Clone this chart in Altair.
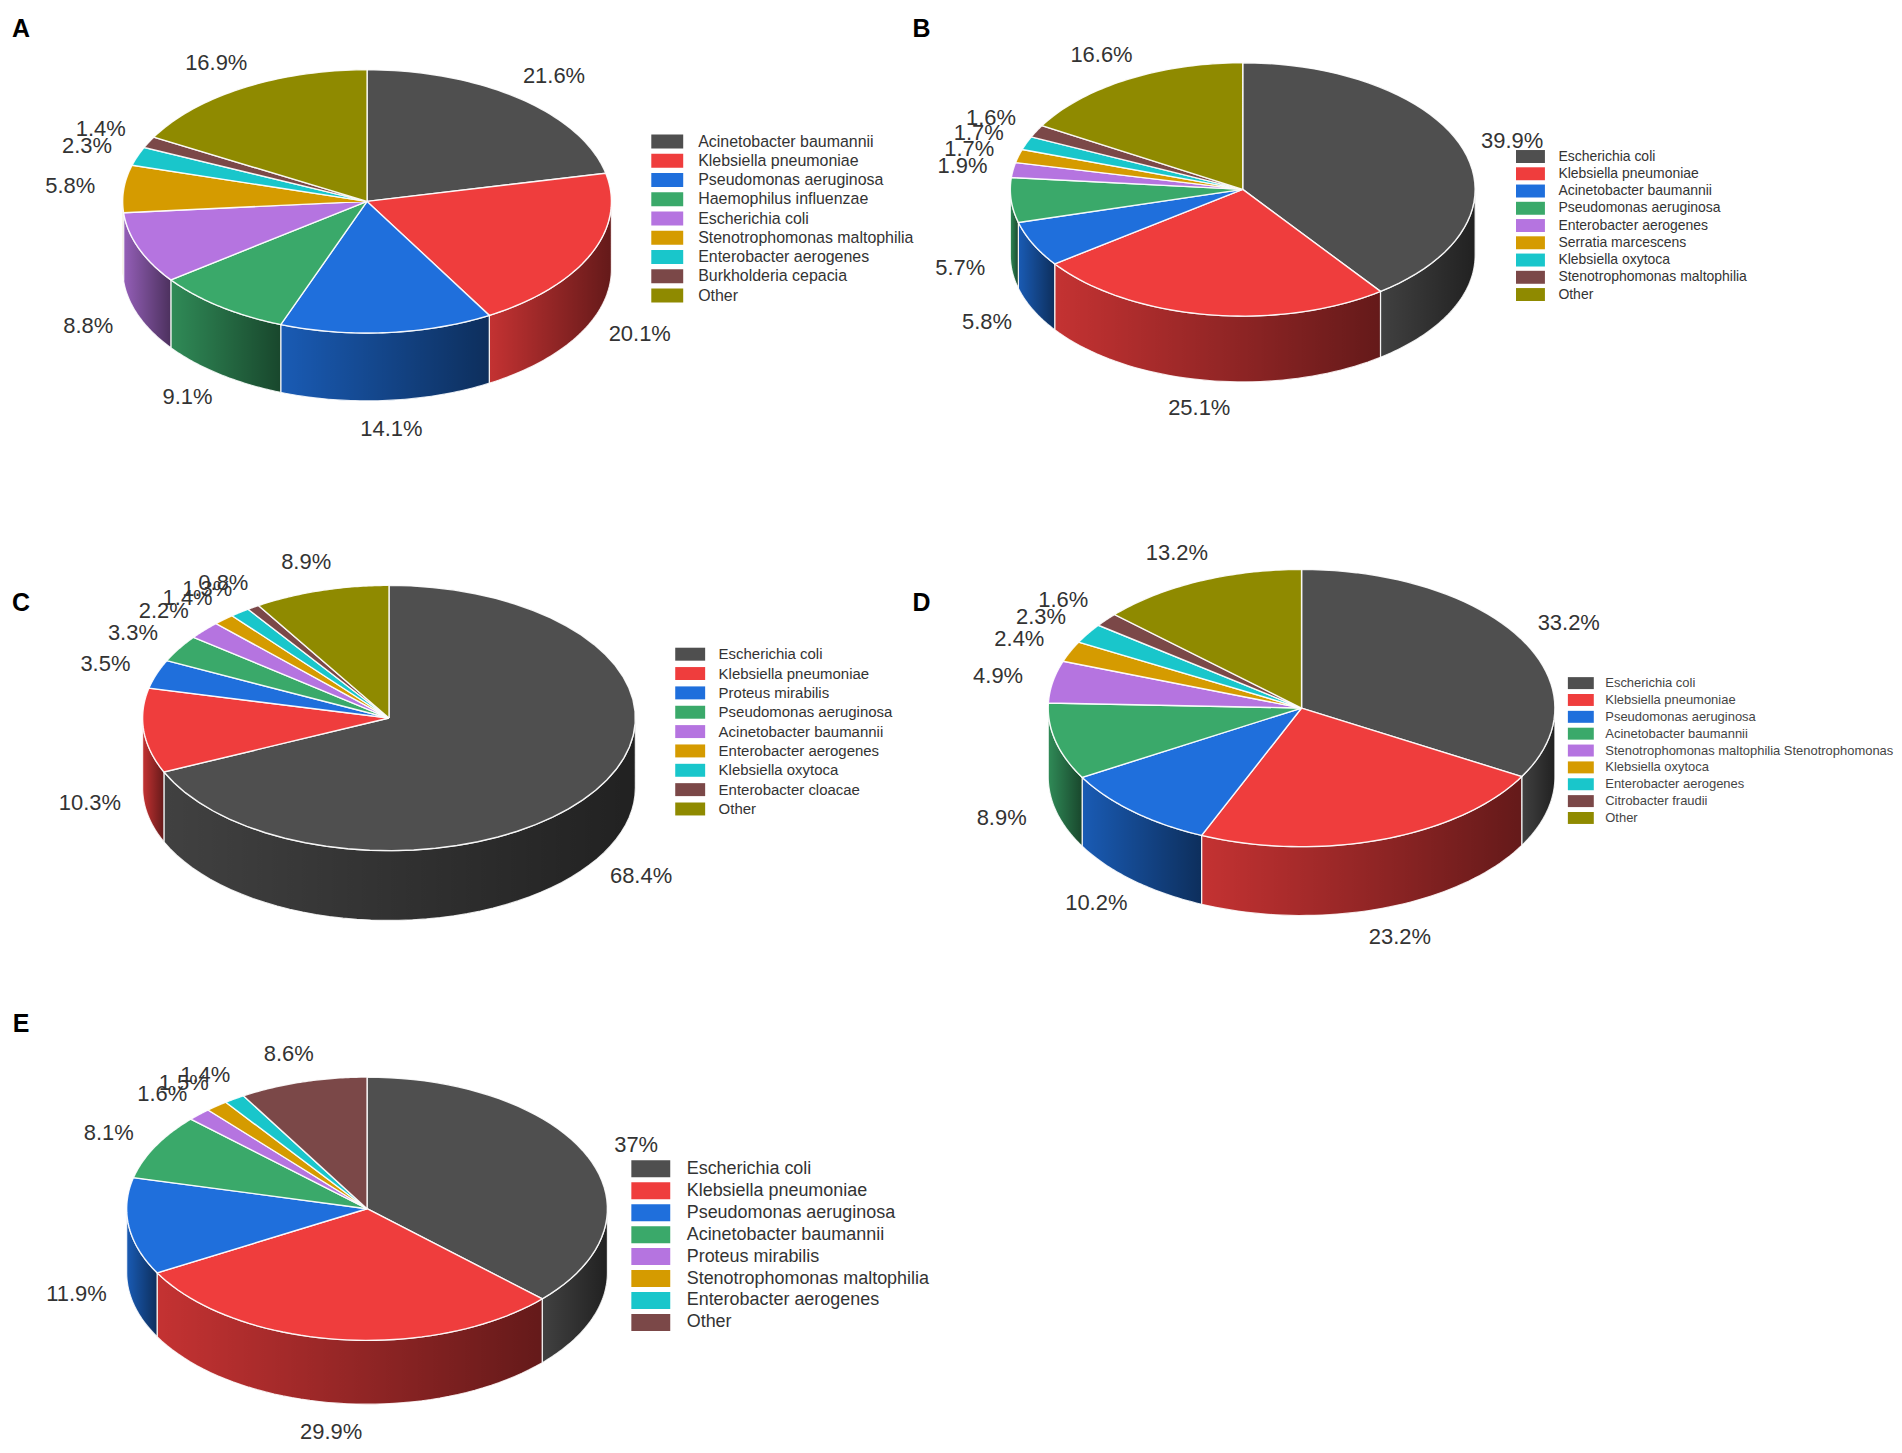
import altair as alt
import pandas as pd

# ------------------------------------------------------------------ data
A_names = ["Acinetobacter baumannii", "Klebsiella pneumoniae", "Pseudomonas aeruginosa",
           "Haemophilus influenzae", "Escherichia coli", "Stenotrophomonas maltophilia",
           "Enterobacter aerogenes", "Burkholderia cepacia", "Other"]
A_values = [21.6, 20.1, 14.1, 9.1, 8.8, 5.8, 2.3, 1.4, 16.9]

B_names = ["Escherichia coli", "Klebsiella pneumoniae", "Acinetobacter baumannii",
           "Pseudomonas aeruginosa", "Enterobacter aerogenes", "Serratia marcescens",
           "Klebsiella oxytoca", "Stenotrophomonas maltophilia", "Other"]
B_values = [39.9, 25.1, 5.8, 5.7, 1.9, 1.7, 1.7, 1.6, 16.6]

C_names = ["Escherichia coli", "Klebsiella pneumoniae", "Proteus mirabilis",
           "Pseudomonas aeruginosa", "Acinetobacter baumannii", "Enterobacter aerogenes",
           "Klebsiella oxytoca", "Enterobacter cloacae", "Other"]
C_values = [68.4, 10.3, 3.5, 3.3, 2.2, 1.4, 1.3, 0.8, 8.9]

D_names = ["Escherichia coli", "Klebsiella pneumoniae", "Pseudomonas aeruginosa",
           "Acinetobacter baumannii", "Stenotrophomonas maltophilia Stenotrophomonas",
           "Klebsiella oxytoca", "Enterobacter aerogenes", "Citrobacter fraudii", "Other"]
D_values = [33.2, 23.2, 10.2, 8.9, 4.9, 2.4, 2.3, 1.6, 13.2]

E_names = ["Escherichia coli", "Klebsiella pneumoniae", "Pseudomonas aeruginosa",
           "Acinetobacter baumannii", "Proteus mirabilis", "Stenotrophomonas maltophilia",
           "Enterobacter aerogenes", "Other"]
E_values = [37, 29.9, 11.9, 8.1, 1.6, 1.5, 1.4, 8.6]

PALETTE = ["#4f4f4f", "#ef3d3d", "#1f6fdc", "#3aa96a", "#b574e0",
           "#d59b00", "#19c6cb", "#7b4848", "#8f8a00"]
E_colors = PALETTE[:7] + ["#7b4848"]

FONT = "Liberation Sans"
N = 48  # samples along each arc


def panel(letter, names, values, colors, W, H, cx, cy, rx, ry, depth,
          letter_x, letter_y, lx, ly, sw, sh, fs, rowpad, gap, lab_color="#333333"):
    df = pd.DataFrame({"name": names, "value": values, "order": list(range(len(names)))})
    size = max(sh, fs)
    legend = alt.Legend(
        orient="none", legendX=lx, legendY=ly - size / 2, title=None, padding=0,
        symbolType=f"M-{sw/sh:.4f},-1H{sw/sh:.4f}V1H-{sw/sh:.4f}Z",
        symbolSize=sh * sh, symbolStrokeWidth=0,
        symbolOffset=sw / 2 - size / 2, labelOffset=sw + gap - size,
        labelFont=FONT, labelFontSize=fs, labelColor=lab_color, labelLimit=0,
        rowPadding=rowpad,
    )
    color = alt.Color("name:N", scale=alt.Scale(domain=names, range=colors), legend=legend)
    xs = alt.X("px:Q", scale=alt.Scale(domain=[0, W], nice=False, zero=False), axis=None)
    ys = alt.Y("py:Q", scale=alt.Scale(domain=[0, H], nice=False, zero=False, reverse=True), axis=None)

    base = (alt.Chart(df)
            .transform_joinaggregate(total="sum(value)")
            .transform_window(cum="sum(value)", sort=[alt.SortField("order")], frame=[None, 0])
            .transform_calculate(a1="2*PI*(datum.cum - datum.value)/datum.total",
                                 a2="2*PI*datum.cum/datum.total"))

    # side walls (front half only)
    wall_base = (base
                 .transform_calculate(b1="max(datum.a1, PI/2)", b2="min(datum.a2, 3*PI/2)")
                 .transform_filter("datum.b2 > datum.b1")
                 .transform_calculate(k=f"sequence(0, {2*N+3})")
                 .transform_flatten(["k"])
                 .transform_calculate(
                     t=f"datum.k <= {N} ? datum.k/{N} : (datum.k <= {2*N+1} ? ({2*N+1}-datum.k)/{N} : 0)",
                     off=f"(datum.k > {N} && datum.k <= {2*N+1}) ? {depth} : 0")
                 .transform_calculate(th="datum.b1 + (datum.b2-datum.b1)*datum.t")
                 .transform_calculate(px=f"{cx} + {rx}*sin(datum.th)",
                                      py=f"{cy} - {ry}*cos(datum.th) + datum.off"))
    walls = wall_base.mark_line(filled=True, strokeWidth=0).encode(
        x=xs, y=ys, color=color, order=alt.Order("k:Q"))
    shade = alt.Gradient(gradient="linear",
                         stops=[alt.GradientStop(color="rgba(0,0,0,0.18)", offset=0),
                                alt.GradientStop(color="rgba(0,0,0,0.58)", offset=1)],
                         x1=0, x2=1, y1=0, y2=0)
    walls_shade = wall_base.mark_line(filled=True, fill=shade, stroke="white",
                                      strokeWidth=1.2, strokeOpacity=0.85).encode(
        x=xs, y=ys, detail="name:N", order=alt.Order("k:Q"))

    # top face
    tops = (base
            .transform_calculate(k=f"sequence(0, {N+3})")
            .transform_flatten(["k"])
            .transform_calculate(th=f"datum.a1 + (datum.a2-datum.a1)*clamp((datum.k-1)/{N}, 0, 1)",
                                 ctr=f"datum.k == 0 || datum.k == {N+2}")
            .transform_calculate(px=f"datum.ctr ? {cx} : {cx} + {rx}*sin(datum.th)",
                                 py=f"datum.ctr ? {cy} : {cy} - {ry}*cos(datum.th)")
            .mark_line(filled=True, stroke="white", strokeWidth=1.4, strokeOpacity=0.9)
            .encode(x=xs, y=ys, color=color, order=alt.Order("k:Q")))

    # percentage labels
    kf = 1.22
    labels = (base
              .transform_calculate(m="(datum.a1+datum.a2)/2")
              .transform_calculate(px=f"{cx} + {rx*kf}*sin(datum.m)",
                                   py=f"{cy} - {ry*kf}*cos(datum.m) + (cos(datum.m) < 0 ? {depth} : 0)",
                                   label="datum.value + '%'")
              .mark_text(font=FONT, fontSize=22, color="#333333", align="center", baseline="middle")
              .encode(x=xs, y=ys, text="label:N"))

    # panel letter
    tag = (alt.Chart(pd.DataFrame({"letter": [letter]}))
           .mark_text(font=FONT, fontSize=25, fontWeight="bold", color="#000000",
                      align="center", baseline="middle")
           .encode(text="letter:N", x=alt.value(letter_x), y=alt.value(letter_y)))

    return alt.layer(walls, walls_shade, tops, labels, tag).properties(width=W, height=H)


pA = panel("A", A_names, A_values, PALETTE, 892, 532, 360, 192, 245, 132, 68,
           13, 19, 645, 132, 32, 14, 16, 3.3, 7)
pB = panel("B", B_names, B_values, PALETTE, 994, 532, 346, 180, 233, 127, 66,
           24, 19, 620, 147, 29, 13, 14, 3.3, 6)
pC = panel("C", C_names, C_values, PALETTE, 892, 450, 382, 178, 247, 133, 70,
           13, 63, 669, 114, 30, 13, 15, 3.4, 6)
pD = panel("D", D_names, D_values, PALETTE, 994, 450, 405, 168, 254, 139, 69,
           24, 63, 672, 143, 26, 12, 13, 2.9, 5, "#444444")
pE = panel("E", E_names, E_values, E_colors, 892, 455, 360, 220, 241, 132, 64,
           13, 35, 625, 180, 39, 17, 18, 4.0, 6)

chart = (alt.concat(pA, pB, pC, pD, pE, columns=2, spacing=0, bounds="flush", align="each")
         .resolve_scale(color="independent", x="independent", y="independent")
         .resolve_legend(color="independent")
         .properties(padding=0, background="white")
         .configure_view(stroke=None))

chart.save("out.html", embed_options={"renderer": "svg", "actions": False})
